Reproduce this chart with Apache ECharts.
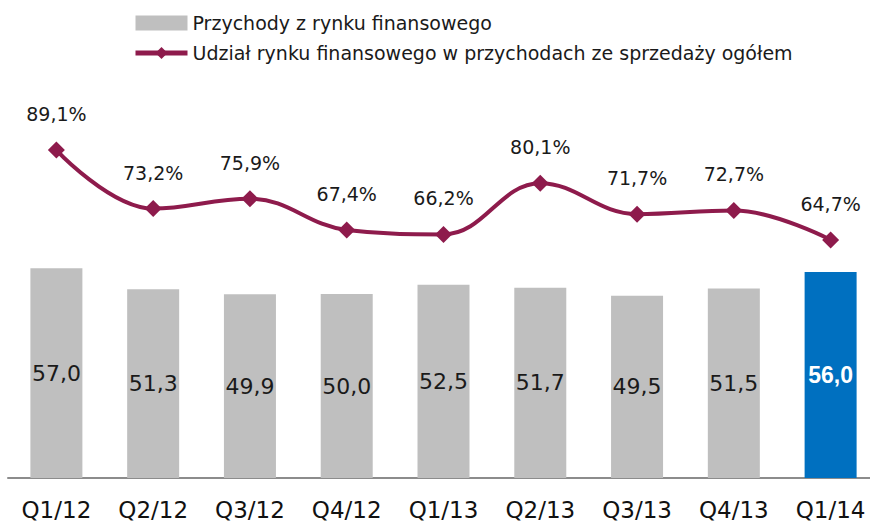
<!DOCTYPE html>
<html>
<head>
<meta charset="utf-8">
<script src="https://cdn.jsdelivr.net/npm/echarts@6/dist/echarts.min.js"></script>
<style>
  html, body { margin: 0; padding: 0; background: #fff; }
  #chart { width: 870px; height: 528px; }
</style>
</head>
<body>
<div id="chart"></div>
<script>
  const categories = ['Q1/12', 'Q2/12', 'Q3/12', 'Q4/12', 'Q1/13', 'Q2/13', 'Q3/13', 'Q4/13', 'Q1/14'];
  // przychody z rynku finansowego
  const revenue = [57.0, 51.3, 49.9, 50.0, 52.5, 51.7, 49.5, 51.5, 56.0];
  // udział rynku finansowego (%)
  const share = [89.1, 73.2, 75.9, 67.4, 66.2, 80.1, 71.7, 72.7, 64.7];

  const fmt = v => v.toFixed(1).replace('.', ',');
  const font = 'DejaVu Sans';
  const lastIdx = revenue.length - 1;
  const lineColor = '#8E1B4C';

  const chart = echarts.init(document.getElementById('chart'), null, { renderer: 'svg' });

  const option = {
    animation: false,
    textStyle: { fontFamily: font },
    legend: {
      orient: 'vertical',
      left: 128,
      top: 7,
      itemGap: 8,
      itemWidth: 52,
      itemHeight: 15,
      textStyle: { fontSize: 19, lineHeight: 22, color: '#1a1a1a' },
      data: [
        { name: 'Przychody z rynku finansowego', icon: 'rect', itemStyle: { color: '#BFBFBF' } },
        {
          name: 'Udział rynku finansowego w przychodach ze sprzedaży ogółem',
          lineStyle: { width: 5, color: lineColor },
          itemStyle: { color: lineColor }
        }
      ]
    },
    grid: { left: 8, width: 871, top: 110, bottom: 50, outerBoundsMode: 'none', containLabel: false },
    xAxis: {
      type: 'category',
      data: categories,
      axisTick: { show: false },
      axisLine: { lineStyle: { color: '#8c8c8c', width: 2 } },
      axisLabel: { fontSize: 23, color: '#111', margin: 20 }
    },
    yAxis: {
      type: 'value',
      min: 0,
      max: 100,
      show: false
    },
    series: [
      {
        name: 'Przychody z rynku finansowego',
        type: 'bar',
        barWidth: 52,
        data: revenue.map((v, i) => ({
          value: v,
          itemStyle: { color: i === lastIdx ? '#0070C0' : '#BFBFBF' },
          label: i === lastIdx
            ? { color: '#fff', fontWeight: 'bold', fontFamily: 'Liberation Sans', fontSize: 23 }
            : {}
        })),
        label: {
          show: true,
          position: 'inside',
          fontSize: 22,
          color: '#1a1a1a',
          formatter: p => fmt(p.value)
        }
      },
      {
        name: 'Udział rynku finansowego w przychodach ze sprzedaży ogółem',
        type: 'line',
        data: share,
        smooth: 0.4,
        symbol: 'diamond',
        symbolSize: 17,
        itemStyle: { color: lineColor },
        lineStyle: { color: lineColor, width: 4 },
        label: {
          show: true,
          position: 'top',
          distance: 18,
          fontSize: 19,
          color: '#1a1a1a',
          formatter: p => fmt(p.value) + '%'
        }
      }
    ]
  };

  chart.setOption(option);
</script>
</body>
</html>
